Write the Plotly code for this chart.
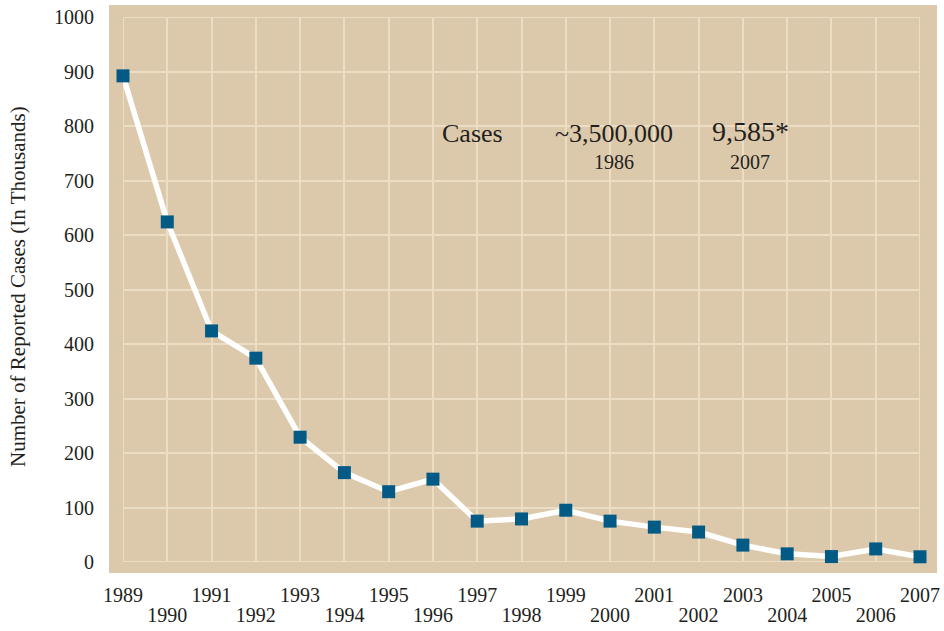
import plotly.graph_objects as go

years = list(range(1989, 2008))
cases_thousands = [892, 624, 424, 374, 229, 164, 129, 152, 75, 79, 95, 75, 64, 55, 31, 15, 10, 24, 9.585]
y_ticks = list(range(0, 1001, 100))
odd_labels = [str(y) if y % 2 == 1 else "" for y in years]
even_years = [y for y in years if y % 2 == 0]
even_labels = [str(y) for y in even_years]

TAN = "#dcc9ab"
GRID = "#ebdec5"
MARK = "#035a85"
TXT = "#231f20"
FONT = "Liberation Serif"

W, H = 944, 631
L, R, T, B = 123, 24, 17, 69
pw, ph = W - L - R, H - T - B

fig = go.Figure()
fig.add_trace(go.Scatter(
    x=years, y=cases_thousands, mode="lines+markers",
    line=dict(color="white", width=5.5),
    marker=dict(symbol="square", size=13, color=MARK),
    cliponaxis=False, showlegend=False, hoverinfo="x+y",
))
# invisible trace on the second x axis (even-year label row)
fig.add_trace(go.Scatter(x=[years[0]], y=[None], xaxis="x2", showlegend=False,
                         hoverinfo="skip", mode="markers"))

# tan panel behind the grid
fig.add_shape(type="rect", xref="paper", yref="paper", layer="below",
              x0=(109 - L) / pw, x1=(937 - L) / pw,
              y0=-(573 - (T + ph)) / ph, y1=1 + (T - 5) / ph,
              fillcolor=TAN, line=dict(width=0))
# grid border (edge grid lines)
fig.add_shape(type="rect", xref="x", yref="y", layer="below",
              x0=years[0], x1=years[-1], y0=y_ticks[0], y1=y_ticks[-1],
              fillcolor="rgba(0,0,0,0)", line=dict(color=GRID, width=2))

ann = [
    dict(x=1996.9, y=787, text="Cases", size=26),
    dict(x=2000.1, y=787, text="~3,500,000", size=26),
    dict(x=2000.1, y=734, text="1986", size=20),
    dict(x=2003.17, y=790, text="9,585*", size=28),
    dict(x=2003.15, y=734, text="2007", size=20),
]
for a in ann:
    fig.add_annotation(x=a["x"], y=a["y"], text=a["text"], showarrow=False,
                       xanchor="center", yanchor="middle",
                       font=dict(family=FONT, size=a["size"], color=TXT))

fig.add_annotation(xref="paper", yref="paper", x=(18 - L) / pw, y=(T + ph - 287) / ph,
                   text="Number of Reported Cases (In Thousands)", textangle=-90,
                   showarrow=False, xanchor="center", yanchor="middle",
                   font=dict(family=FONT, size=21, color=TXT))

tickfont = dict(family=FONT, size=20, color=TXT)
fig.update_layout(
    width=W, height=H,
    margin=dict(l=L, r=R, t=T, b=B, autoexpand=False),
    paper_bgcolor="white", plot_bgcolor="rgba(0,0,0,0)",
    font=dict(family=FONT, color=TXT, size=20),
    xaxis=dict(range=[1989, 2007], tickvals=years, ticktext=odd_labels,
               showgrid=True, gridcolor=GRID, gridwidth=2,
               showline=False, zeroline=False, ticks="", ticklabelstandoff=19,
               tickfont=tickfont, fixedrange=True),
    xaxis2=dict(range=[1989, 2007], overlaying="x", side="bottom", anchor="y",
                tickvals=even_years, ticktext=even_labels,
                showgrid=False, showline=False, zeroline=False, ticks="",
                ticklabelstandoff=39, tickfont=tickfont, fixedrange=True),
    yaxis=dict(range=[0, 1000], tickvals=y_ticks,
               showgrid=True, gridcolor=GRID, gridwidth=2,
               showline=False, zeroline=False, ticks="", ticklabelstandoff=28,
               tickfont=tickfont, fixedrange=True),
)

fig.write_html("out.html", config={"displayModeBar": False},
               post_script="document.body.style.margin='0';")
